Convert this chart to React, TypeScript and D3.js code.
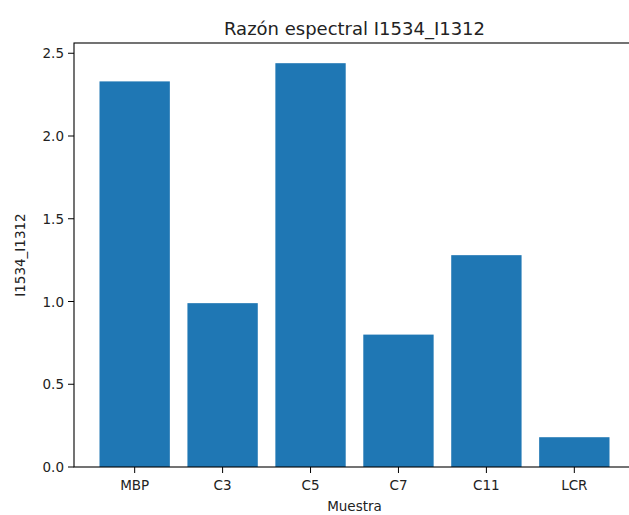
import React from "react";
import * as d3 from "d3";

const categories: string[] = ["MBP", "C3", "C5", "C7", "C11", "LCR"];
const values: number[] = [2.33, 0.99, 2.44, 0.80, 1.28, 0.18];
const yTicks: number[] = [0, 0.5, 1.0, 1.5, 2.0, 2.5];
const title = "Razón espectral I1534_I1312";
const xLabel = "Muestra";
const yLabel = "I1534_I1312";

const W = 629;
const H = 515;
const M = { left: 74, top: 43, right: 635, bottom: 467 };
const FONT = "'DejaVu Sans', sans-serif";

export default function App() {
  const x = d3
    .scaleBand<string>()
    .domain(categories)
    .range([M.left, M.right])
    .paddingInner(0.2)
    .paddingOuter(0.29);
  const yMax = (d3.max(values) as number) * 1.05;
  const y = d3.scaleLinear().domain([0, yMax]).range([M.bottom, M.top]);
  const fmt = d3.format(".1f");
  const cx = (M.left + M.right) / 2;
  const cy = (M.top + M.bottom) / 2;

  return (
    <svg
      width={W}
      height={H}
      style={{ position: "absolute", left: 0, top: 0, background: "#fff" }}
      fontFamily={FONT}
    >
      <rect x={0} y={0} width={W} height={H} fill="#fff" />
      {categories.map((c, i) => (
        <rect
          key={c}
          x={x(c)}
          y={y(values[i])}
          width={x.bandwidth()}
          height={y(0) - y(values[i])}
          fill="#1f77b4"
        />
      ))}
      {/* spines */}
      <rect
        x={M.left}
        y={M.top}
        width={M.right - M.left}
        height={M.bottom - M.top}
        fill="none"
        stroke="#000"
        strokeWidth={1.1}
      />
      {/* y ticks */}
      {yTicks.map((t) => (
        <g key={t}>
          <line x1={M.left - 6} x2={M.left} y1={y(t)} y2={y(t)} stroke="#000" strokeWidth={1} />
          <text
            x={M.left - 10}
            y={y(t)}
            textAnchor="end"
            dominantBaseline="central"
            fontSize={13.5}
            fill="#222"
          >
            {fmt(t)}
          </text>
        </g>
      ))}
      {/* x ticks */}
      {categories.map((c) => {
        const px = (x(c) as number) + x.bandwidth() / 2;
        return (
          <g key={c}>
            <line x1={px} x2={px} y1={M.bottom} y2={M.bottom + 6} stroke="#000" strokeWidth={1} />
            <text x={px} y={490} textAnchor="middle" fontSize={13.5} fill="#222">
              {c}
            </text>
          </g>
        );
      })}
      <text x={cx} y={511} textAnchor="middle" fontSize={13.5} fill="#222">
        {xLabel}
      </text>
      <text
        transform={`translate(25,${cy}) rotate(-90)`}
        textAnchor="middle"
        fontSize={13.5}
        fill="#222"
      >
        {yLabel}
      </text>
      <text x={cx} y={35} textAnchor="middle" fontSize={18} fill="#222">
        {title}
      </text>
    </svg>
  );
}
